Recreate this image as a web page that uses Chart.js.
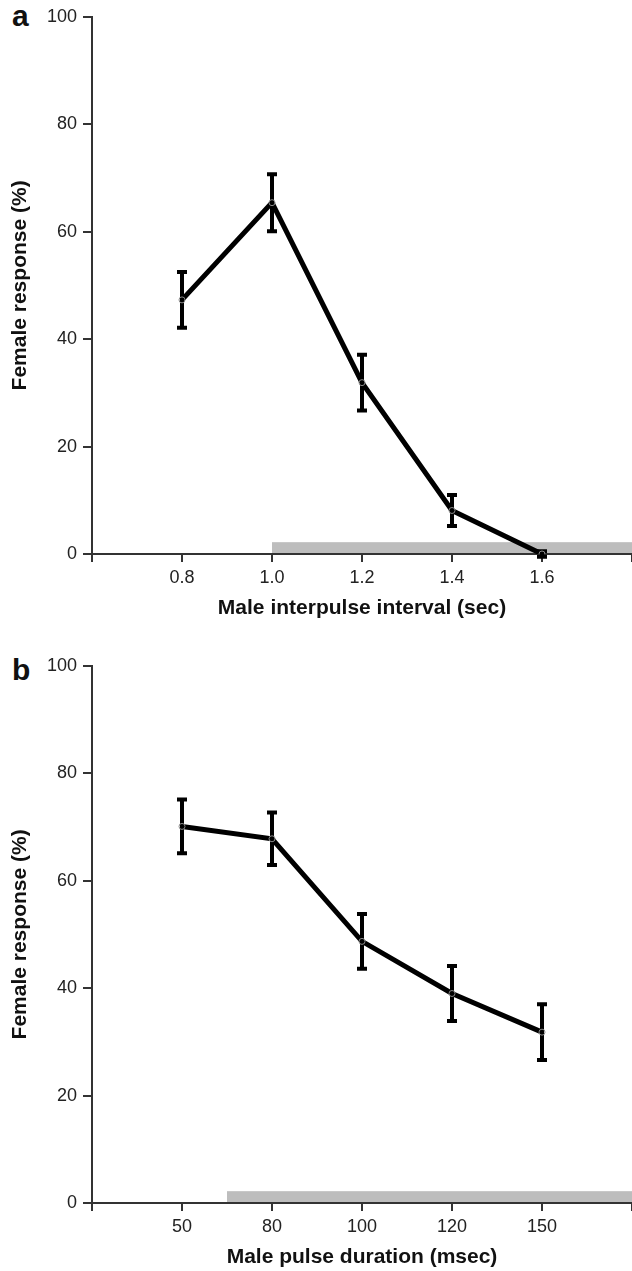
<!DOCTYPE html>
<html>
<head>
<meta charset="utf-8">
<script src="https://cdn.jsdelivr.net/npm/chart.js@4"></script>
<style>
  body { margin: 0; background: #fff; width: 632px; height: 1271px; overflow: hidden; position: relative; font-family: "Liberation Sans", Arial, sans-serif; }
  canvas { position: absolute; left: 0; }
  .panel { position: absolute; left: 12px; font-weight: bold; font-size: 30px; color: #111; }
</style>
</head>
<body>
<div class="panel" style="top:-1px">a</div>
<canvas id="chartA" width="637" height="630" style="top:0"></canvas>
<div class="panel" style="top:653px">b</div>
<canvas id="chartB" width="637" height="630" style="top:649px"></canvas>
<script>
// panel a: interpulse interval
var intervals = [0.8, 1.0, 1.2, 1.4, 1.6];
var responseA = [47.3, 65.4, 31.9, 8.1, 0];
var errA = [5.2, 5.3, 5.2, 2.9, 0.5];
var shadeA = [1.0, 1.8];

// panel b: pulse duration (evenly spaced categories)
var durations = ['50', '80', '100', '120', '150'];
var responseB = [70.1, 67.8, 48.7, 39.0, 31.8];
var errB = [5.0, 4.9, 5.1, 5.1, 5.2];
var shadeB = [1.5, 6];

var yTicks = [0, 20, 40, 60, 80, 100];
var shadeHeight = 2.2;

var font = '"Liberation Sans", Arial, sans-serif';
var axisColor = '#333';

var errorBars = {
    id: 'errorBars',
    beforeDatasetsDraw: function (chart, args, opts) {
        var ctx = chart.ctx, x = chart.scales.x, y = chart.scales.y;
        // grey shaded band along the x axis
        ctx.save();
        ctx.fillStyle = '#bdbdbd';
        var x0 = x.getPixelForValue(opts.shade[0]), x1 = x.getPixelForValue(opts.shade[1]);
        var yTop = y.getPixelForValue(shadeHeight), yBot = y.getPixelForValue(0) - 1;
        ctx.fillRect(x0, yTop, x1 - x0, yBot - yTop);
        // error bars
        var pts = chart.data.datasets[0].data;
        ctx.strokeStyle = '#000';
        ctx.lineWidth = 4;
        pts.forEach(function (p, i) {
            var px = x.getPixelForValue(p.x);
            var lo = y.getPixelForValue(p.y - opts.err[i]);
            var hi = y.getPixelForValue(p.y + opts.err[i]);
            ctx.beginPath();
            ctx.moveTo(px, lo); ctx.lineTo(px, hi);
            ctx.moveTo(px - 5, lo); ctx.lineTo(px + 5, lo);
            ctx.moveTo(px - 5, hi); ctx.lineTo(px + 5, hi);
            ctx.stroke();
        });
        ctx.restore();
    }
};

function makeChart(id, xs, ys, err, shade, xMin, xMax, step, labelFn, title) {
    return new Chart(document.getElementById(id), {
        type: 'line',
        data: {
            datasets: [{
                data: xs.map(function (v, i) { return { x: v, y: ys[i] }; }),
                borderColor: '#000',
                borderWidth: 5,
                tension: 0,
                pointRadius: 3,
                pointBorderWidth: 1,
                pointBorderColor: '#8a8a8a',
                pointBackgroundColor: 'rgba(0,0,0,0)'
            }]
        },
        options: {
            responsive: false,
            animation: false,
            devicePixelRatio: 1,
            layout: { padding: { top: 16, right: 0, left: 0, bottom: 0 } },
            plugins: {
                legend: { display: false },
                tooltip: { enabled: false },
                errorBars: { err: err, shade: shade }
            },
            scales: {
                x: {
                    type: 'linear',
                    min: xMin, max: xMax,
                    afterFit: function (s) { s.height = 76; },
                    border: { display: true, color: axisColor, width: 2 },
                    grid: { drawOnChartArea: false, drawTicks: true, tickLength: 8, color: axisColor, lineWidth: 2 },
                    ticks: {
                        stepSize: step, autoSkip: false, maxRotation: 0, padding: 5,
                        color: '#222', font: { family: font, size: 18 },
                        callback: labelFn
                    },
                    title: { display: true, text: title, color: '#111', padding: { top: 0, bottom: 9 },
                             font: { family: font, size: 21, weight: 'bold' } }
                },
                y: {
                    min: 0, max: 100,
                    afterFit: function (s) { s.width = 92; },
                    afterBuildTicks: function (s) { s.ticks = yTicks.map(function (v) { return { value: v }; }); },
                    border: { display: true, color: axisColor, width: 2 },
                    grid: { drawOnChartArea: false, drawTicks: true, tickLength: 9, color: axisColor, lineWidth: 2 },
                    ticks: { padding: 6, color: '#222', font: { family: font, size: 18 } },
                    title: { display: true, text: 'Female response (%)', color: '#111', padding: { top: 8, bottom: 0 },
                             font: { family: font, size: 21, weight: 'bold' } }
                }
            }
        },
        plugins: [errorBars]
    });
}

makeChart('chartA', intervals, responseA, errA, shadeA, 0.6, 1.8, 0.2, function (v) {
    var s = v.toFixed(1);
    return intervals.map(function (t) { return t.toFixed(1); }).indexOf(s) >= 0 ? s : '';
}, 'Male interpulse interval (sec)');

makeChart('chartB', [1, 2, 3, 4, 5], responseB, errB, shadeB, 0, 6, 1, function (v) {
    return durations[Math.round(v) - 1] || '';
}, 'Male pulse duration (msec)');
</script>
</body>
</html>
